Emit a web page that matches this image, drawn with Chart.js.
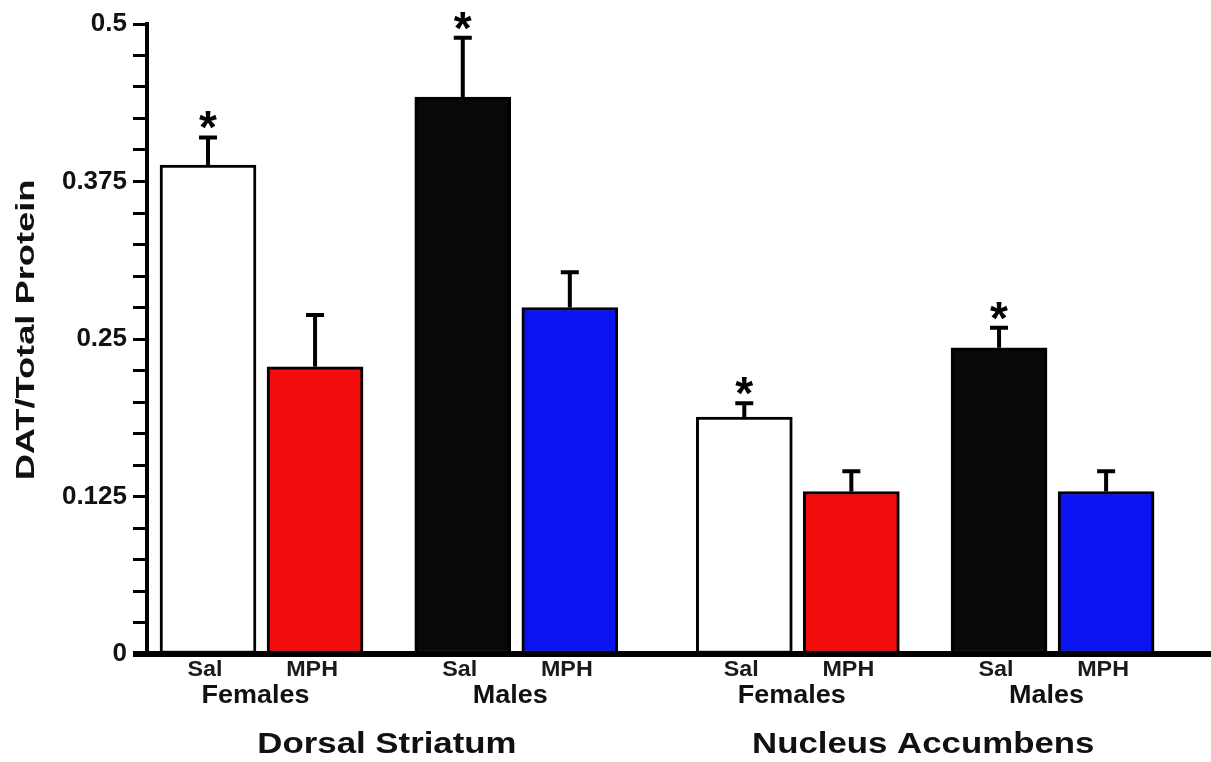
<!DOCTYPE html>
<html>
<head>
<meta charset="utf-8">
<script src="https://cdn.jsdelivr.net/npm/chart.js@4/dist/chart.umd.min.js"></script>
<style>
  html, body { margin: 0; padding: 0; background: #fff; }
  canvas { display: block; }
</style>
</head>
<body>
<canvas id="datChart" width="1211" height="762"></canvas>
<script>
// data (bar order: region > sex > treatment)
const regions = ['Dorsal Striatum', 'Nucleus Accumbens'];
const sexes = ['Females', 'Males'];
const treatments = ['Sal', 'MPH'];
const means = [0.388, 0.228, 0.442, 0.275, 0.188, 0.129, 0.243, 0.129];
const sems = [0.022, 0.041, 0.047, 0.028, 0.011, 0.016, 0.016, 0.016];
const significant = [true, false, true, false, true, false, true, false];
const yTickLabels = ['0', '0.125', '0.25', '0.375', '0.5'];
const yTitle = 'DAT/Total Protein';

// layout (in bar-slot units)
const PAIR_GAP = 2.38;
const REGION_GAP = 5.01;
const FONT = '"Liberation Sans", Arial, Helvetica, sans-serif';

// fill colours by sex, then treatment
const fills = [['#ffffff', '#f20c0c'], ['#080808', '#0b14f0']];

const points = [];
const colors = [];
regions.forEach((reg, r) => {
    sexes.forEach((sex, s) => {
        treatments.forEach((tr, t) => {
            const i = r * 4 + s * 2 + t;
            points.push({ x: r * REGION_GAP + s * PAIR_GAP + t, y: means[i] });
            colors.push(fills[s][t]);
        });
    });
});

function drawStretched(ctx, text, x, y, size, sx, rot) {
    ctx.save();
    ctx.translate(x, y);
    if (rot) ctx.rotate(rot);
    ctx.scale(sx, 1);
    ctx.font = 'bold ' + size + 'px ' + FONT;
    ctx.textAlign = 'center';
    ctx.textBaseline = 'alphabetic';
    ctx.fillText(text, 0, 0);
    ctx.restore();
}

const extras = {
    id: 'extras',
    afterDatasetsDraw(chart) {
        const ctx = chart.ctx;
        const xs = chart.scales.x;
        const ys = chart.scales.y;
        const meta = chart.getDatasetMeta(0);
        const zeroY = ys.getPixelForValue(0);

        // error bars (upper only) and significance stars
        ctx.save();
        ctx.strokeStyle = '#000';
        ctx.fillStyle = '#000';
        ctx.lineWidth = 4;
        meta.data.forEach((bar, i) => {
            const top = ys.getPixelForValue(means[i]);
            const cap = ys.getPixelForValue(means[i] + sems[i]);
            ctx.beginPath();
            ctx.moveTo(bar.x, top);
            ctx.lineTo(bar.x, cap);
            ctx.moveTo(bar.x - 9, cap);
            ctx.lineTo(bar.x + 9, cap);
            ctx.stroke();
            if (significant[i]) {
                ctx.font = 'bold 46px ' + FONT;
                ctx.textAlign = 'center';
                ctx.textBaseline = 'alphabetic';
                const m = ctx.measureText('*');
                const centre = cap - 17;
                const base = centre - (m.actualBoundingBoxDescent - m.actualBoundingBoxAscent) / 2;
                ctx.fillText('*', bar.x, base);
            }
        });

        // thick baseline
        ctx.lineWidth = 6;
        ctx.beginPath();
        ctx.moveTo(133, zeroY);
        ctx.lineTo(chart.width, zeroY);
        ctx.stroke();

        // category labels
        ctx.fillStyle = '#1a1a1a';
        points.forEach((p, i) => {
            const cx = xs.getPixelForValue(p.x);
            drawStretched(ctx, treatments[i % 2], cx - 3, 676, 22, 1.06);
        });
        ctx.fillStyle = '#111';
        regions.forEach((reg, r) => {
            sexes.forEach((sex, s) => {
                const i = r * 4 + s * 2;
                const cx = (xs.getPixelForValue(points[i].x) + xs.getPixelForValue(points[i + 1].x)) / 2;
                drawStretched(ctx, sex, cx - 6, 703, 25, 1.08);
            });
            const rx = (xs.getPixelForValue(points[r * 4].x) + xs.getPixelForValue(points[r * 4 + 3].x)) / 2;
            drawStretched(ctx, reg, rx - 2, 753, 30, 1.16);
        });

        // y axis title
        drawStretched(ctx, yTitle, 34, (ys.top + ys.bottom) / 2 - 9, 25, 1.45, -Math.PI / 2);
        ctx.restore();
    }
};

const chart = new Chart(document.getElementById('datChart').getContext('2d'), {
    type: 'bar',
    data: {
        datasets: [{
            data: points,
            backgroundColor: colors,
            borderColor: '#000',
            borderWidth: 3,
            barThickness: 96,
            borderSkipped: false
        }]
    },
    options: {
        responsive: false,
        animation: false,
        layout: { padding: { top: 24, bottom: 108, left: 0, right: 0 } },
        plugins: { legend: { display: false }, tooltip: { enabled: false } },
        scales: {
            x: {
                type: 'linear',
                offset: false,
                min: -0.57,
                max: 9.37,
                display: false
            },
            y: {
                min: 0,
                max: 0.5,
                afterFit: (scale) => { scale.width = 147; },
                border: { display: true, color: '#000', width: 4 },
                grid: {
                    drawOnChartArea: false,
                    drawTicks: true,
                    tickLength: 14,
                    tickWidth: 3,
                    tickColor: '#000'
                },
                ticks: {
                    stepSize: 0.025,
                    autoSkip: false,
                    padding: 6,
                    color: '#111',
                    font: { family: FONT, size: 26, weight: 'bold' },
                    callback: (v) => {
                        const k = v / 0.125;
                        return Math.abs(k - Math.round(k)) < 1e-6 ? yTickLabels[Math.round(k)] : '';
                    }
                }
            }
        }
    },
    plugins: [extras]
});
</script>
</body>
</html>
